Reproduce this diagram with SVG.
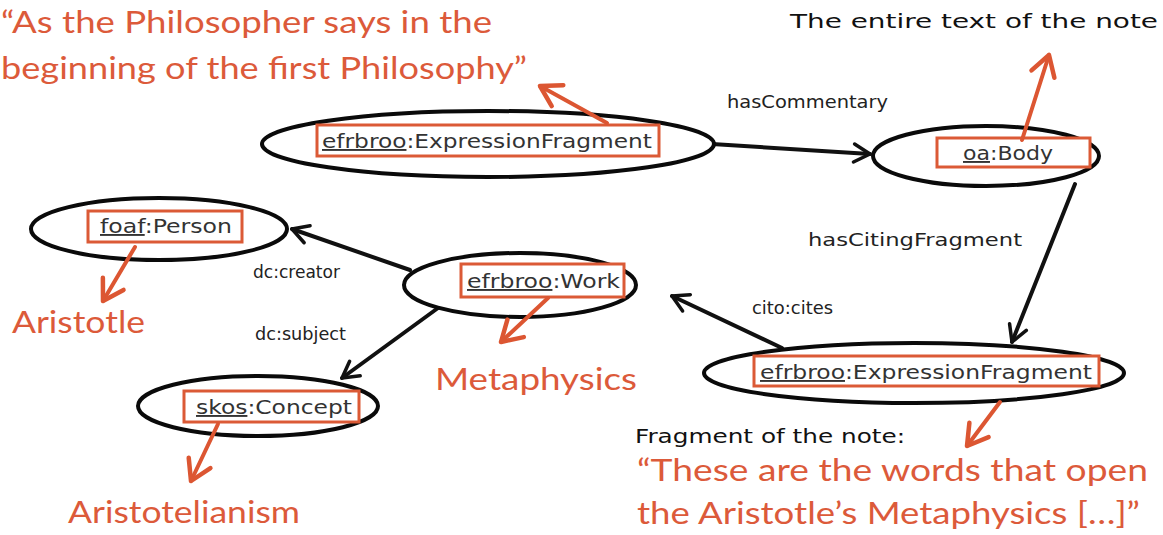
<svg xmlns="http://www.w3.org/2000/svg" width="1163" height="535" viewBox="0 0 1163 535">
<style>
.ell{fill:#fff;stroke:#0a0a0a;stroke-width:4}
.box{fill:#fff;stroke:#db5a36;stroke-width:3}
.nl{font-family:"DejaVu Sans",sans-serif;font-size:19px;fill:#333}
.pre{text-decoration:underline dotted}
.el{font-family:"DejaVu Sans",sans-serif;font-size:17px;fill:#222}
.bk{font-family:"DejaVu Sans",sans-serif;font-size:19px;fill:#111}
.rd{font-family:"Lato","Open Sans",sans-serif;font-size:31px;fill:#dc5a3a}
.con{fill:none;stroke:#111;stroke-width:4;stroke-linecap:round;marker-end:url(#ah)}
.ra{fill:none;stroke:#dc5632;stroke-width:4;stroke-linecap:round;marker-end:url(#rh)}
</style>
<defs>
<marker id="ah" viewBox="0 0 24 24" refX="21" refY="12" markerWidth="24" markerHeight="24" markerUnits="userSpaceOnUse" orient="auto">
<path d="M5,3 L21,12 L5,21" fill="none" stroke="#111" stroke-width="3.5" stroke-linecap="round" stroke-linejoin="round"/>
</marker>
<marker id="rh" viewBox="0 0 30 30" refX="27" refY="15" markerWidth="30" markerHeight="30" markerUnits="userSpaceOnUse" orient="auto">
<path d="M7,3 L27,15 L7,27" fill="none" stroke="#dc5632" stroke-width="4.5" stroke-linecap="round" stroke-linejoin="round"/>
</marker>
</defs>

<g id="connectors">
<path class="con" d="M712,144 L870,154"/>
<path class="con" d="M1075,184 L1012,342"/>
<path class="con" d="M782,348 L672,296"/>
<path class="con" d="M410,270 L292,229"/>
<path class="con" d="M438,308 L342,378"/>
<text class="el" x="727" y="108" textLength="161" lengthAdjust="spacingAndGlyphs">hasCommentary</text>
<text class="el" x="808" y="246" textLength="214" lengthAdjust="spacingAndGlyphs">hasCitingFragment</text>
<text class="el" x="752" y="314" textLength="81" lengthAdjust="spacingAndGlyphs">cito:cites</text>
<text class="el" x="253" y="278" textLength="87" lengthAdjust="spacingAndGlyphs">dc:creator</text>
<text class="el" x="255" y="340" textLength="91" lengthAdjust="spacingAndGlyphs">dc:subject</text>
</g>

<g id="node-expr-top">
<ellipse class="ell" cx="488" cy="144" rx="226" ry="33"/>
<rect class="box" x="317" y="125" width="342" height="31"/>
<text class="nl" x="322" y="148" textLength="330" lengthAdjust="spacingAndGlyphs"><tspan class="pre">efrbroo</tspan>:ExpressionFragment</text>
</g>

<g id="node-body">
<ellipse class="ell" cx="986" cy="156" rx="113" ry="30"/>
<rect class="box" x="937" y="138" width="153" height="29"/>
<text class="nl" x="963" y="160" textLength="90" lengthAdjust="spacingAndGlyphs"><tspan class="pre">oa</tspan>:Body</text>
</g>

<g id="node-person">
<ellipse class="ell" cx="159" cy="229" rx="128" ry="31"/>
<rect class="box" x="88" y="211" width="154" height="31"/>
<text class="nl" x="100" y="233" textLength="132" lengthAdjust="spacingAndGlyphs"><tspan class="pre">foaf</tspan>:Person</text>
</g>

<g id="node-work">
<ellipse class="ell" cx="520" cy="285" rx="116" ry="32"/>
<rect class="box" x="461" y="264" width="163" height="33"/>
<text class="nl" x="467" y="288" textLength="153" lengthAdjust="spacingAndGlyphs"><tspan class="pre">efrbroo</tspan>:Work</text>
</g>

<g id="node-concept">
<ellipse class="ell" cx="258" cy="406" rx="120" ry="30"/>
<rect class="box" x="184" y="391" width="175" height="31"/>
<text class="nl" x="196" y="414" textLength="156" lengthAdjust="spacingAndGlyphs"><tspan class="pre">skos</tspan>:Concept</text>
</g>

<g id="node-expr-bottom">
<ellipse class="ell" cx="914" cy="373" rx="210" ry="30"/>
<rect class="box" x="754" y="356" width="345" height="30"/>
<text class="nl" x="760" y="379" textLength="332" lengthAdjust="spacingAndGlyphs"><tspan class="pre">efrbroo</tspan>:ExpressionFragment</text>
</g>

<g id="annotations">
<path class="ra" d="M607,123 L540,86"/>
<path class="ra" d="M1022,140 L1049,55"/>
<path class="ra" d="M135,247 L103,301"/>
<path class="ra" d="M548,298 L501,342"/>
<path class="ra" d="M218,424 L191,481"/>
<path class="ra" d="M1000,402 L967,446"/>
<text class="rd" x="1" y="33" textLength="491" lengthAdjust="spacingAndGlyphs">“As the Philosopher says in the</text>
<text class="rd" x="1" y="79" textLength="526" lengthAdjust="spacingAndGlyphs">beginning of the first Philosophy”</text>
<text class="bk" x="790" y="28" textLength="368" lengthAdjust="spacingAndGlyphs">The entire text of the note</text>
<text class="rd" x="12" y="333" textLength="133" lengthAdjust="spacingAndGlyphs">Aristotle</text>
<text class="rd" x="435" y="390" textLength="202" lengthAdjust="spacingAndGlyphs">Metaphysics</text>
<text class="rd" x="68" y="523" textLength="232" lengthAdjust="spacingAndGlyphs">Aristotelianism</text>
<text class="bk" x="635" y="443" textLength="270" lengthAdjust="spacingAndGlyphs">Fragment of the note:</text>
<text class="rd" x="637" y="481" textLength="511" lengthAdjust="spacingAndGlyphs">“These are the words that open</text>
<text class="rd" x="637" y="524" textLength="503" lengthAdjust="spacingAndGlyphs">the Aristotle’s Metaphysics […]”</text>
</g>
</svg>
